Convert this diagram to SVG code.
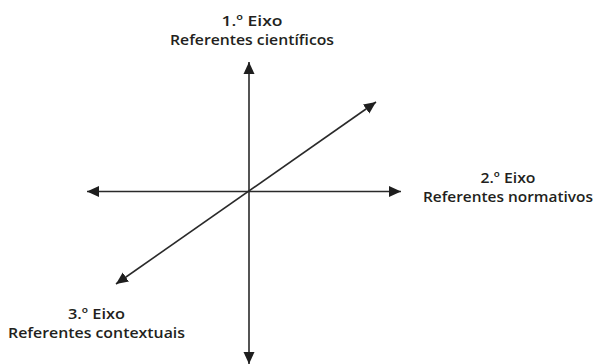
<svg xmlns="http://www.w3.org/2000/svg" width="594" height="364" viewBox="0 0 594 364">
<defs>
<style>
.ax{stroke:#2a2a2a;stroke-width:1.6;fill:none;marker-start:url(#ah);marker-end:url(#ah)}
.lb{font-family:"Open Sans","Liberation Sans",Arial,sans-serif;font-weight:600;font-size:15px;fill:#231f20;text-anchor:middle}
</style>
<marker id="ah" markerUnits="userSpaceOnUse" markerWidth="14" markerHeight="12" refX="12" refY="5.5" orient="auto-start-reverse" viewBox="0 0 14 11">
<path d="M0,0 L12,5.5 L0,11 z" fill="#1e1e1e"/>
</marker>
</defs>
<g id="connectors">
<line class="ax" x1="249" y1="364" x2="249" y2="62"/>
<line class="ax" x1="87" y1="191.5" x2="401" y2="191.5"/>
<line class="ax" x1="116" y1="284" x2="376" y2="102"/>
</g>
<g id="eixo1">
<text class="lb" x="252" y="26" textLength="61" lengthAdjust="spacingAndGlyphs">1.º Eixo</text>
<text class="lb" x="252" y="45" textLength="164" lengthAdjust="spacingAndGlyphs">Referentes científicos</text>
</g>
<g id="eixo2">
<text class="lb" x="508" y="183" textLength="55" lengthAdjust="spacingAndGlyphs">2.º Eixo</text>
<text class="lb" x="508" y="202" textLength="170" lengthAdjust="spacingAndGlyphs">Referentes normativos</text>
</g>
<g id="eixo3">
<text class="lb" x="96.5" y="319" textLength="57" lengthAdjust="spacingAndGlyphs">3.º Eixo</text>
<text class="lb" x="96.5" y="338" textLength="177" lengthAdjust="spacingAndGlyphs">Referentes contextuais</text>
</g>
</svg>
